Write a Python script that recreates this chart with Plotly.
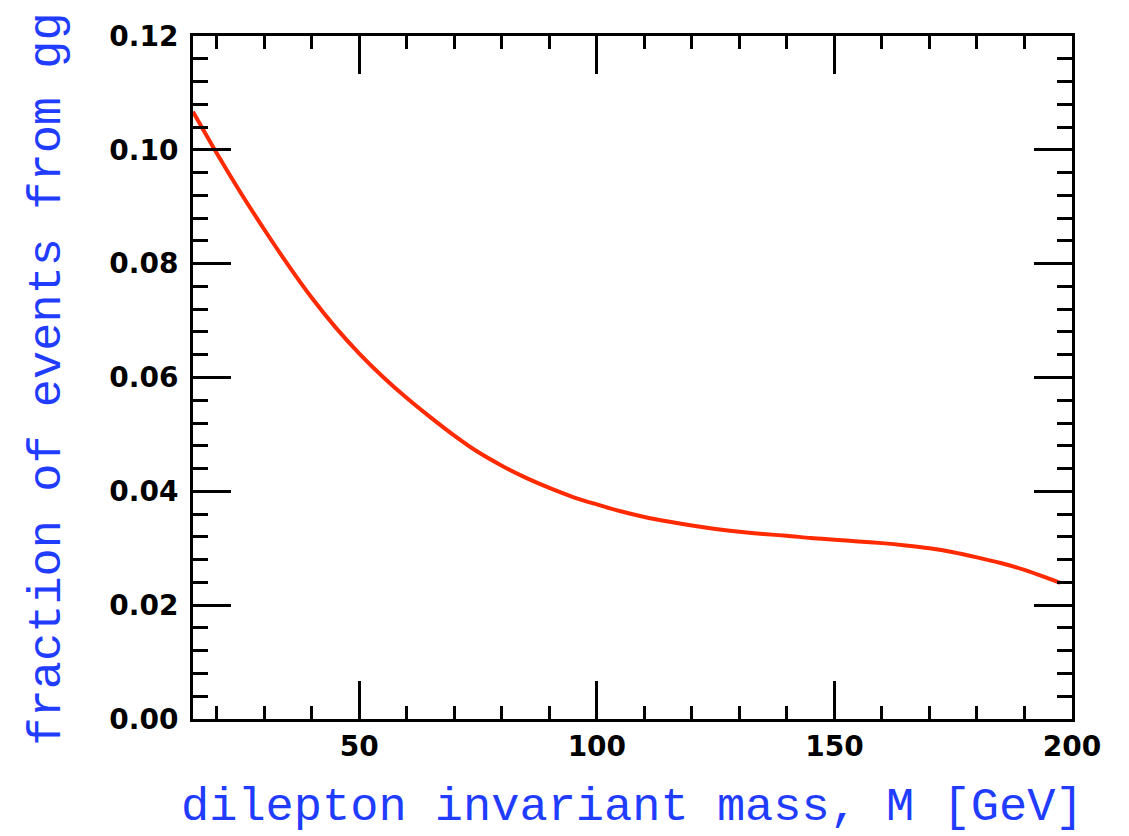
import plotly.graph_objects as go

mass = [15, 20, 25, 30, 35, 40, 45, 50, 55, 60, 65, 70, 75, 80, 85, 90, 95, 100,
        105, 110, 115, 120, 125, 130, 135, 140, 145, 150, 155, 160, 165, 170,
        175, 180, 185, 190, 195, 197.5]
fraction = [0.1067, 0.0994, 0.0925, 0.0860, 0.0798, 0.0740, 0.0688, 0.0642,
            0.0601, 0.0564, 0.0530, 0.0498, 0.0469, 0.0445, 0.0424, 0.0406,
            0.0390, 0.0377, 0.0365, 0.0355, 0.0347, 0.0340, 0.0334, 0.0329,
            0.0325, 0.0322, 0.0318, 0.0315, 0.0312, 0.0309, 0.0305, 0.0300,
            0.0293, 0.0284, 0.0274, 0.0262, 0.0247, 0.0239]

x_ticks = [50, 100, 150, 200]
y_ticks = [0.00, 0.02, 0.04, 0.06, 0.08, 0.10, 0.12]

blue = "#1f3cff"
tickfont = dict(family="DejaVu Sans", size=28, color="black")

fig = go.Figure()
fig.add_trace(go.Scatter(x=mass, y=fraction, mode="lines",
                         line=dict(color="#ff2a00", width=4, shape="spline", smoothing=0.8),
                         showlegend=False))

axis_common = dict(showline=True, linecolor="black", linewidth=3, mirror="ticks",
                   ticks="inside", tickwidth=3, tickcolor="black", ticklen=38,
                   showgrid=False, zeroline=False, tickfont=tickfont)

fig.update_xaxes(range=[15, 200], tickvals=x_ticks, ticktext=[f"<b>{v}</b>" for v in x_ticks],
                 minor=dict(dtick=10, tick0=0, ticks="inside", ticklen=13, tickwidth=3,
                            tickcolor="black", showgrid=False),
                 **axis_common)
fig.update_yaxes(range=[0, 0.12], tickvals=y_ticks, ticktext=[f"<b>{v:.2f}</b>" for v in y_ticks],
                 ticklabelstandoff=6,
                 minor=dict(dtick=0.004, tick0=0, ticks="inside", ticklen=15, tickwidth=3,
                            tickcolor="black", showgrid=False),
                 **axis_common)

fig.add_annotation(text="dilepton invariant mass, M [GeV]", xref="paper", yref="paper",
                   x=0.5, y=-0.13, xanchor="center", yanchor="middle", showarrow=False,
                   font=dict(family="Liberation Mono", size=47, color=blue))
fig.add_annotation(text="fraction of events from gg", xref="paper", yref="paper",
                   x=-0.166, y=0.497, xanchor="center", yanchor="middle", showarrow=False,
                   textangle=-90,
                   font=dict(family="Liberation Mono", size=47, color=blue))

fig.update_layout(width=1129, height=836, plot_bgcolor="white", paper_bgcolor="white",
                  margin=dict(l=185, r=65, t=22, b=125))

fig.write_html("out.html")
